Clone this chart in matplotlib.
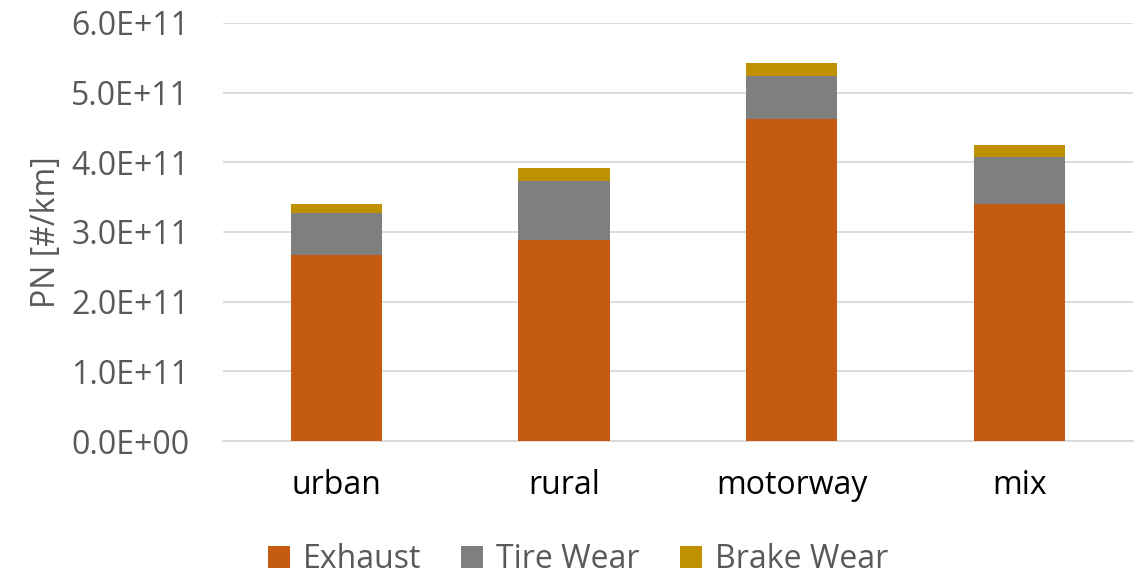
import matplotlib.pyplot as plt
import numpy as np
from matplotlib.ticker import FuncFormatter

plt.rcParams['font.family'] = ['Open Sans', 'DejaVu Sans']

# PN emissions per driving cycle, stacked by source
cycles = ["urban", "rural", "motorway", "mix"]
exhaust = [2.67e11, 2.885e11, 4.62e11, 3.40e11]
tire_wear = [0.60e11, 0.845e11, 0.62e11, 0.68e11]
brake_wear = [0.13e11, 0.185e11, 0.19e11, 0.17e11]

colors = ["#C55A11", "#7F7F7F", "#BF9000"]
labels = ["Exhaust", "Tire Wear", "Brake Wear"]

fs = 23

fig = plt.figure(figsize=(11.42, 5.74), dpi=100)
ax = fig.add_axes([0.195, 0.2317, 0.797, 0.7283])

x = np.arange(len(cycles))
bottom = np.zeros(len(cycles))
for vals, col, lab in zip([exhaust, tire_wear, brake_wear], colors, labels):
    ax.bar(x, vals, width=0.4, bottom=bottom, color=col, label=lab, zorder=3)
    bottom += np.array(vals)

ax.set_xlim(-0.5, len(cycles) - 0.5)
ax.set_ylim(0, 6e11)
ax.set_yticks(np.arange(0, 6.01e11, 1e11))
ax.yaxis.set_major_formatter(FuncFormatter(lambda v, p: f"{v:.1E}"))
ax.set_xticks(x)
ax.set_xticklabels(cycles, fontsize=fs, color="black")
ax.tick_params(axis="y", labelsize=fs, labelcolor="#595959", length=0, pad=24)
ax.tick_params(axis="x", length=0, pad=20)

ax.grid(axis="y", color="#D9D9D9", linewidth=1.3, zorder=0)
for s in ["top", "right", "left"]:
    ax.spines[s].set_visible(False)
ax.spines["bottom"].set_color("#D9D9D9")
ax.spines["bottom"].set_linewidth(1.3)

ax.set_ylabel("PN [#/km]", fontsize=fs, color="#595959", labelpad=6)

leg = fig.legend(loc="center", bbox_to_anchor=(0.506, 0.025), ncol=3, frameon=False,
                 fontsize=fs, handlelength=0.7, handleheight=0.7, handletextpad=0.4,
                 columnspacing=1.25)
for t in leg.get_texts():
    t.set_color("#595959")

fig.savefig("out.png", dpi=100)
